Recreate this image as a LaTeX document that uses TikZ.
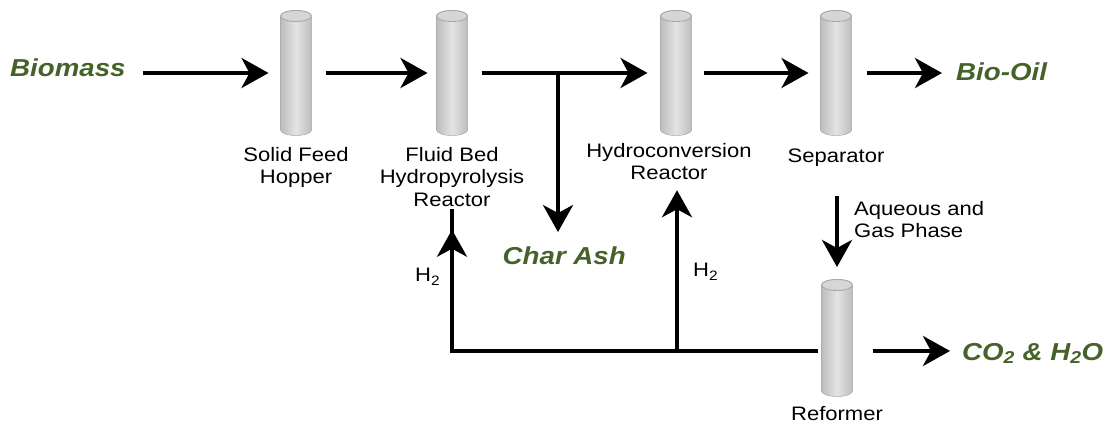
\documentclass[tikz,border=0pt]{standalone}
\usepackage{fontspec}
\setmainfont{Liberation Sans}[FakeStretch=1.13]
\usetikzlibrary{arrows.meta,calc}
\definecolor{prodgreen}{HTML}{44622A}
\definecolor{cylside}{HTML}{BDBDBD}
\definecolor{cylmid}{HTML}{E4E4E4}
\definecolor{cyltop}{HTML}{D6D6D6}
\definecolor{cylline}{HTML}{A8A8A8}
\newcommand{\drawcyl}[1]{%
  \shade[left color=cylside, right color=cylside, middle color=cylmid, draw=cylline, line width=0.5pt]
    (#1.north west) -- (#1.south west)
    arc[start angle=180, end angle=360, x radius=15.5pt, y radius=5.5pt]
    -- (#1.north east)
    arc[start angle=0, end angle=180, x radius=15.5pt, y radius=5.5pt] -- cycle;
  \filldraw[fill=cyltop, draw=cylline, line width=0.9pt] (#1.north) ellipse[x radius=15.5pt, y radius=5.5pt];
}
\begin{document}
\begin{tikzpicture}[x=1pt,y=1pt,
  cylbox/.style={inner sep=0pt, outer sep=0pt, minimum width=31pt, draw=none},
  lbl/.style={inner sep=0pt, align=center, font=\fontsize{19.5}{22.5}\selectfont},
  prod/.style={inner sep=0pt, text=prodgreen, font=\fontsize{24.5}{28}\selectfont\bfseries\itshape},
  arr/.style={line width=4pt, -{Stealth[length=27pt, width=30pt, inset=8pt]}},
  plain/.style={line width=4pt}]
\fill[white] (0,0) rectangle (1106,-430);
\useasboundingbox (0,0) rectangle (1106,-430);

% vessels
\node[cylbox, minimum height=114pt] (hop) at (296,-73) {};
\node[cylbox, minimum height=114pt] (fbr) at (452,-73) {};
\node[cylbox, minimum height=114pt] (hcr) at (676,-73) {};
\node[cylbox, minimum height=114pt] (sep) at (836,-73) {};
\node[cylbox, minimum height=106pt] (ref) at (837,-338) {};
\drawcyl{hop}
\drawcyl{fbr}
\drawcyl{hcr}
\drawcyl{sep}
\drawcyl{ref}

% vessel labels
\node[lbl, anchor=north] (hoplbl) at (296,-147) {Solid Feed\\Hopper};
\node[lbl, anchor=north] (fbrlbl) at (452,-147) {Fluid Bed\\Hydropyrolysis\\Reactor};
\node[lbl, anchor=north] (hcrlbl) at (669,-143) {Hydroconversion\\Reactor};
\node[lbl, anchor=base] (seplbl) at (836,-163) {Separator};
\node[lbl, anchor=base] (reflbl) at (837,-420) {Reformer};
\node[lbl, anchor=north west, align=left] (aqlbl) at (854,-201) {Aqueous and\\Gas Phase};
\node[lbl, anchor=base west] (h2a) at (415,-282) {H\textsubscript{2}};
\node[lbl, anchor=base west] (h2b) at (693,-277) {H\textsubscript{2}};

% products
\node[prod, anchor=base west] (bio) at (10,-77) {Biomass};
\node[prod, anchor=base west] (oil) at (956,-81) {Bio-Oil};
\node[prod, anchor=base east] (char) at (626,-265) {Char Ash};
\node[prod, anchor=base west] (co2) at (962,-360) {CO\textsubscript{2} \& H\textsubscript{2}O};

% main line
\draw[arr, shorten <=17pt, shorten >=12pt] (bio.east |- hop.west) -- (hop.west);
\draw[arr, shorten <=14pt, shorten >=9pt] (hop.east) -- (fbr.west);
\draw[arr, shorten <=14pt, shorten >=13pt] (fbr.east) -- (hcr.west);
\coordinate (br) at (558,-73);
\draw[arr, shorten >=15pt] (br) -- (br |- char.north);
\draw[arr, shorten <=12pt, shorten >=12pt] (hcr.east) -- (sep.west);
\draw[arr, shorten <=15pt, shorten >=14pt] (sep.east) -- (sep.east -| oil.west);

% separator to reformer
\draw[arr, shorten <=29pt, shorten >=18pt] (seplbl.south -| ref.north) -- (ref.north);

% hydrogen recycle
\coordinate (bus) at ($(ref.west)+(-4,-13)$);
\draw[plain, line join=miter] (bus) -| ([yshift=-2pt]fbrlbl.south);
\draw[arr, shorten >=23pt] (bus) -| (fbrlbl.south);
\coordinate (tee) at (677,-351);
\draw[arr, shorten >=10pt] (tee) -- (tee |- hcrlbl.south);

% reformer to products
\draw[arr, shorten <=20pt, shorten >=12pt] (ref.east |- bus) -- (co2.west |- bus);
\end{tikzpicture}
\end{document}
